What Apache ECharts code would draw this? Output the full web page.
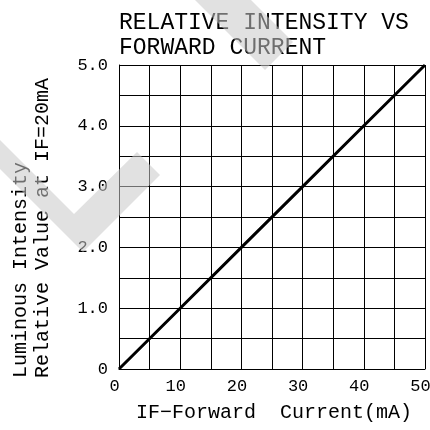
<!DOCTYPE html>
<html>
<head>
<meta charset="utf-8">
<script src="https://cdn.jsdelivr.net/npm/echarts@6/dist/echarts.min.js"></script>
<style>
html,body{margin:0;padding:0;background:#fff;overflow:hidden;}
#c{width:430px;height:430px;}
</style>
</head>
<body>
<div id="c"></div>
<script>
// Data
const currentMA = [0, 10, 20, 30, 40, 50];
const relIntensity = [0, 1.0, 2.0, 3.0, 4.0, 5.0];
const xTickValues = [0, 10, 20, 30, 40, 50];
const xTickLabels = ['0', '10', '20', '30', '40', '50'];
const yTickValues = [0, 1, 2, 3, 4, 5];
const yTickLabels = ['0', '1.0', '2.0', '3.0', '4.0', '5.0'];
const titleLines = ['RELATIVE INTENSITY VS', 'FORWARD CURRENT'];
const xName = 'IF\u2212Forward  Current(mA)';
const yNameLines = ['Luminous Intensity', 'Relative Value at IF=20mA'];

const FONT = '"Liberation Mono", "Courier New", monospace';

function lookup(vals, labels, v) {
  for (let i = 0; i < vals.length; i++) {
    if (Math.abs(vals[i] - v) < 1e-6) return labels[i];
  }
  return '';
}

const chart = echarts.init(document.getElementById('c'), null, {renderer: 'canvas', width: 430, height: 430});
const wmFill = 'rgba(200,200,200,0.55)';
chart.setOption({
  animation: false,
  backgroundColor: '#fff',
  title: {
    text: titleLines.join('\n'),
    left: 119,
    top: 10,
    padding: 0,
    textStyle: {fontFamily: FONT, fontSize: 23, fontWeight: 'normal', color: '#000', lineHeight: 25}
  },
  grid: {left: 119, right: 5, top: 65, bottom: 61, containLabel: false, outerBoundsMode: 'none'},
  xAxis: {
    type: 'value', min: 0, max: 50, interval: 5,
    name: xName, nameLocation: 'middle', nameGap: 34,
    nameTextStyle: {fontFamily: FONT, fontSize: 20, color: '#000', padding: [0, 0, 0, 4]},
    axisLine: {show: true, onZero: false, lineStyle: {color: '#000', width: 1}},
    axisTick: {show: false},
    axisLabel: {
      margin: 9, fontFamily: FONT, fontSize: 17, color: '#000', padding: [0, 9, 0, 0],
      formatter: v => lookup(xTickValues, xTickLabels, v)
    },
    splitLine: {show: true, lineStyle: {color: '#000', width: 1}}
  },
  yAxis: {
    type: 'value', min: 0, max: 5, interval: 0.5,
    axisLine: {show: true, onZero: false, lineStyle: {color: '#000', width: 1}},
    axisTick: {show: false},
    axisLabel: {
      margin: 11, fontFamily: FONT, fontSize: 17, color: '#000',
      formatter: v => lookup(yTickValues, yTickLabels, v)
    },
    splitLine: {show: true, lineStyle: {color: '#000', width: 1}}
  },
  series: [{
    type: 'line',
    data: currentMA.map((x, i) => [x, relIntensity[i]]),
    symbol: 'none',
    lineStyle: {color: '#000', width: 3},
    silent: true,
    z: 3
  }],
  graphic: [
    {
      type: 'text', x: 21, y: 378, rotation: Math.PI / 2, z: 10,
      style: {text: yNameLines[0], font: '20px ' + FONT, fill: '#000', align: 'left', verticalAlign: 'middle'}
    },
    {
      type: 'text', x: 43, y: 378, rotation: Math.PI / 2, z: 10,
      style: {text: yNameLines[1], font: '20px ' + FONT, fill: '#000', align: 'left', verticalAlign: 'middle'}
    },
    {
      type: 'polygon', z: 100, silent: true,
      shape: {points: [[0,140],[74,214],[137,152],[160,175],[83,252],[0,169]]},
      style: {fill: wmFill}
    },
    {
      type: 'polygon', z: 100, silent: true,
      shape: {points: [[195,0],[251,0],[293,42],[265,70]]},
      style: {fill: wmFill}
    }
  ]
});
</script>
</body>
</html>
